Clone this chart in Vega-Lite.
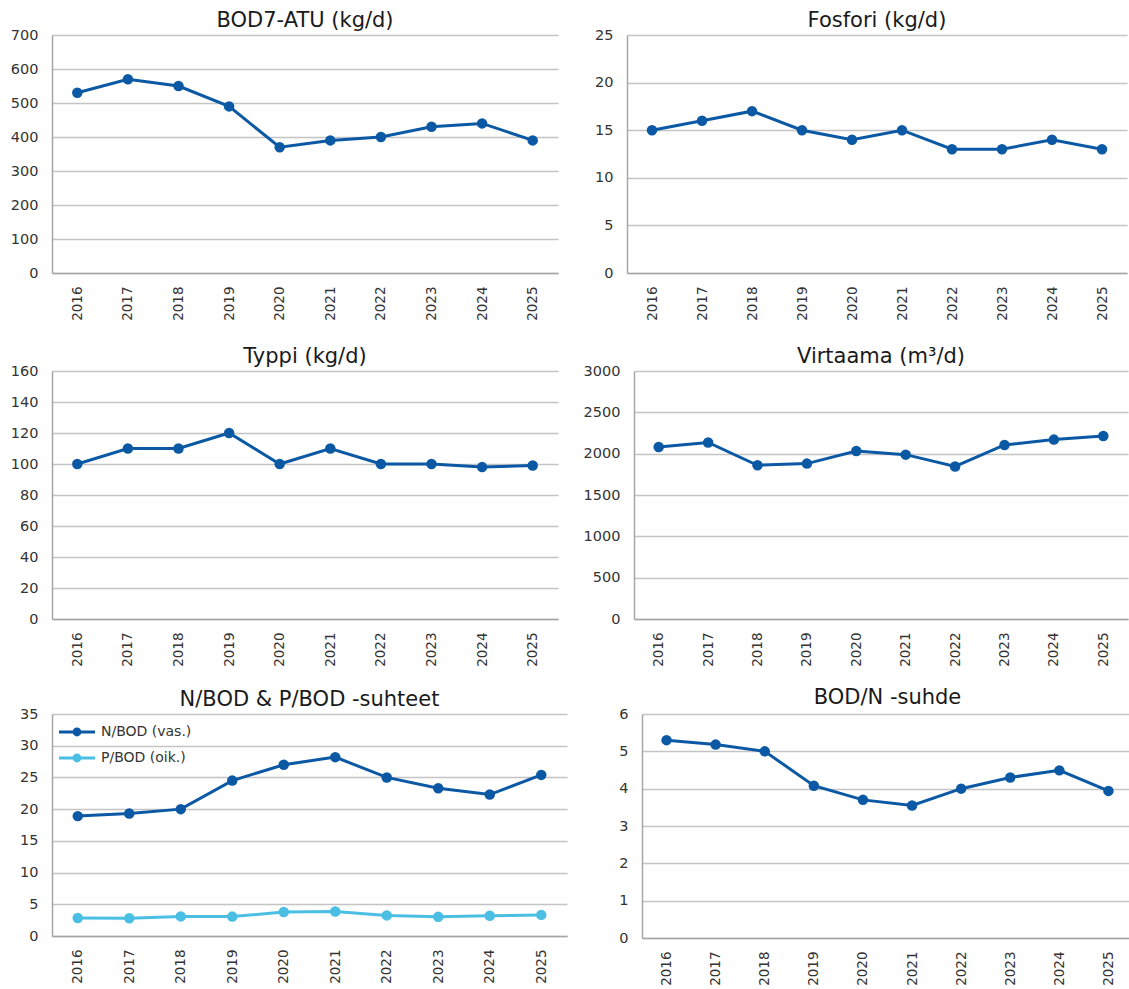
{
  "$schema": "https://vega.github.io/schema/vega-lite/v6.json",
  "background": "white",
  "padding": {"left": 5, "top": 10, "right": 0, "bottom": 0},
  "datasets": {
    "main": [
      {"year": "2016", "BOD": 530, "P": 15, "N": 100, "Q": 2080, "BODN": 5.30},
      {"year": "2017", "BOD": 570, "P": 16, "N": 110, "Q": 2135, "BODN": 5.18},
      {"year": "2018", "BOD": 550, "P": 17, "N": 110, "Q": 1860, "BODN": 5.00},
      {"year": "2019", "BOD": 490, "P": 15, "N": 120, "Q": 1880, "BODN": 4.08},
      {"year": "2020", "BOD": 370, "P": 14, "N": 100, "Q": 2033, "BODN": 3.70},
      {"year": "2021", "BOD": 390, "P": 15, "N": 110, "Q": 1988, "BODN": 3.55},
      {"year": "2022", "BOD": 400, "P": 13, "N": 100, "Q": 1845, "BODN": 4.00},
      {"year": "2023", "BOD": 430, "P": 13, "N": 100, "Q": 2105, "BODN": 4.30},
      {"year": "2024", "BOD": 440, "P": 14, "N": 98, "Q": 2170, "BODN": 4.49},
      {"year": "2025", "BOD": 390, "P": 13, "N": 99, "Q": 2213, "BODN": 3.94}
    ],
    "ratios": [
      {"year": "2016", "series": "N/BOD (vas.)", "value": 18.9},
      {"year": "2017", "series": "N/BOD (vas.)", "value": 19.3},
      {"year": "2018", "series": "N/BOD (vas.)", "value": 20.0},
      {"year": "2019", "series": "N/BOD (vas.)", "value": 24.5},
      {"year": "2020", "series": "N/BOD (vas.)", "value": 27.0},
      {"year": "2021", "series": "N/BOD (vas.)", "value": 28.2},
      {"year": "2022", "series": "N/BOD (vas.)", "value": 25.0},
      {"year": "2023", "series": "N/BOD (vas.)", "value": 23.3},
      {"year": "2024", "series": "N/BOD (vas.)", "value": 22.3},
      {"year": "2025", "series": "N/BOD (vas.)", "value": 25.4},
      {"year": "2016", "series": "P/BOD (oik.)", "value": 2.83},
      {"year": "2017", "series": "P/BOD (oik.)", "value": 2.81},
      {"year": "2018", "series": "P/BOD (oik.)", "value": 3.09},
      {"year": "2019", "series": "P/BOD (oik.)", "value": 3.06},
      {"year": "2020", "series": "P/BOD (oik.)", "value": 3.78},
      {"year": "2021", "series": "P/BOD (oik.)", "value": 3.85},
      {"year": "2022", "series": "P/BOD (oik.)", "value": 3.25},
      {"year": "2023", "series": "P/BOD (oik.)", "value": 3.02},
      {"year": "2024", "series": "P/BOD (oik.)", "value": 3.18},
      {"year": "2025", "series": "P/BOD (oik.)", "value": 3.33}
    ]
  },
  "vconcat": [
    {
      "spacing": 15,
      "hconcat": [
        {
          "width": 506, "height": 238,
          "title": {"text": "BOD7-ATU (kg/d)"},
          "data": {"name": "main"},
          "encoding": {
            "x": {"field": "year", "type": "ordinal", "axis": {"minExtent": 53}},
            "y": {"field": "BOD", "type": "quantitative", "scale": {"domain": [0, 700]}, "axis": {"values": [0, 100, 200, 300, 400, 500, 600, 700], "minExtent": 47}}
          },
          "layer": [
            {"mark": {"type": "line", "color": "#0B59A4", "strokeWidth": 3}},
            {"mark": {"type": "point", "filled": true, "size": 110, "opacity": 1, "color": "#0B59A4"}}
          ]
        },
        {
          "width": 500, "height": 238,
          "title": {"text": "Fosfori (kg/d)"},
          "data": {"name": "main"},
          "encoding": {
            "x": {"field": "year", "type": "ordinal", "axis": {"minExtent": 53}},
            "y": {"field": "P", "type": "quantitative", "scale": {"domain": [0, 25]}, "axis": {"values": [0, 5, 10, 15, 20, 25], "minExtent": 54}}
          },
          "layer": [
            {"mark": {"type": "line", "color": "#0B59A4", "strokeWidth": 3}},
            {"mark": {"type": "point", "filled": true, "size": 110, "opacity": 1, "color": "#0B59A4"}}
          ]
        }
      ]
    },
    {
      "spacing": 15,
      "hconcat": [
        {
          "width": 506, "height": 248,
          "title": {"text": "Typpi (kg/d)"},
          "data": {"name": "main"},
          "encoding": {
            "x": {"field": "year", "type": "ordinal", "axis": {"minExtent": 48}},
            "y": {"field": "N", "type": "quantitative", "scale": {"domain": [0, 160]}, "axis": {"values": [0, 20, 40, 60, 80, 100, 120, 140, 160], "minExtent": 47}}
          },
          "layer": [
            {"mark": {"type": "line", "color": "#0B59A4", "strokeWidth": 3}},
            {"mark": {"type": "point", "filled": true, "size": 110, "opacity": 1, "color": "#0B59A4"}}
          ]
        },
        {
          "width": 494, "height": 248,
          "title": {"text": "Virtaama (m³/d)"},
          "data": {"name": "main"},
          "encoding": {
            "x": {"field": "year", "type": "ordinal", "axis": {"minExtent": 48}},
            "y": {"field": "Q", "type": "quantitative", "scale": {"domain": [0, 3000]}, "axis": {"values": [0, 500, 1000, 1500, 2000, 2500, 3000], "format": "d", "minExtent": 61}}
          },
          "layer": [
            {"mark": {"type": "line", "color": "#0B59A4", "strokeWidth": 3}},
            {"mark": {"type": "point", "filled": true, "size": 110, "opacity": 1, "color": "#0B59A4"}}
          ]
        }
      ]
    },
    {
      "spacing": 15,
      "hconcat": [
        {
          "width": 515, "height": 222,
          "title": {"text": "N/BOD & P/BOD -suhteet"},
          "data": {"name": "ratios"},
          "encoding": {
            "x": {"field": "year", "type": "ordinal"},
            "y": {"field": "value", "type": "quantitative", "scale": {"domain": [0, 35]}, "axis": {"values": [0, 5, 10, 15, 20, 25, 30, 35], "minExtent": 42}},
            "color": {
              "field": "series", "type": "nominal",
              "scale": {"domain": ["N/BOD (vas.)", "P/BOD (oik.)"], "range": ["#0B59A4", "#4BBFE3"]},
              "legend": {
                "title": null,
                "orient": "none",
                "legendX": 18,
                "legendY": 690,
                "padding": 0,
                "symbolType": "M-3.5,-0.3H-0.7V0.3H-3.5Z M0.7,-0.3H3.5V0.3H0.7Z M0.85,0A0.85,0.85,0,1,1,-0.85,0A0.85,0.85,0,1,1,0.85,0Z",
                "symbolSize": 106,
                "symbolStrokeWidth": 0,
                "labelOffset": 17,
                "rowPadding": 12,
                "labelFontSize": 14
              }
            }
          },
          "layer": [
            {"mark": {"type": "point", "filled": true, "size": 110, "opacity": 1}},
            {"mark": {"type": "line", "strokeWidth": 3}}
          ]
        },
        {
          "width": 491, "height": 224,
          "title": {"text": "BOD/N -suhde", "offset": -2},
          "data": {"name": "main"},
          "encoding": {
            "x": {"field": "year", "type": "ordinal"},
            "y": {"field": "BODN", "type": "quantitative", "scale": {"domain": [0, 6]}, "axis": {"values": [0, 1, 2, 3, 4, 5, 6], "minExtent": 60}}
          },
          "layer": [
            {"mark": {"type": "line", "color": "#0B59A4", "strokeWidth": 3}},
            {"mark": {"type": "point", "filled": true, "size": 110, "opacity": 1, "color": "#0B59A4"}}
          ]
        }
      ]
    }
  ],
  "spacing": 20,
  "config": {
    "font": "DejaVu Sans",
    "view": {"stroke": null},
    "axis": {
      "labelFont": "DejaVu Sans",
      "labelFontSize": 14.5,
      "labelColor": "#333333",
      "domainColor": "#A6A6A6",
      "domainWidth": 1.5,
      "gridColor": "#C4C4C4",
      "gridWidth": 1.5,
      "ticks": false,
      "tickSize": 0,
      "title": null
    },
    "axisX": {"grid": false, "labelAngle": -90, "labelPadding": 13, "labelFontSize": 13.5},
    "axisY": {"grid": true, "labelPadding": 14},
    "title": {"font": "DejaVu Sans", "fontSize": 21, "fontWeight": "normal", "color": "#1A1A1A", "offset": -4},
    "legend": {"labelFont": "DejaVu Sans", "labelFontSize": 14, "labelColor": "#333333"}
  }
}
